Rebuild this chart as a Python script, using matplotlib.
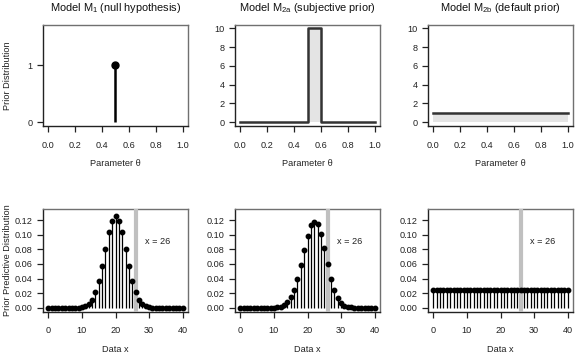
import matplotlib
matplotlib.use("Agg")
import matplotlib.pyplot as plt
import numpy as np

plt.rcParams['font.family'] = ['Liberation Sans', 'DejaVu Sans']
plt.rcParams['mathtext.fontset'] = 'custom'
plt.rcParams['mathtext.rm'] = 'Liberation Sans'
plt.rcParams['mathtext.it'] = 'Liberation Sans:italic'

# ---- data ----
titles = [r"Model M$_{\mathrm{1}}$ (null hypothesis)",
          r"Model M$_{\mathrm{2a}}$ (subjective prior)",
          r"Model M$_{\mathrm{2b}}$ (default prior)"]

# top row: prior distributions
m1_theta = [0.5, 0.5]
m1_density = [0.0, 1.0]
m2a_theta = [0.0, 0.5, 0.5, 0.6, 0.6, 1.0]
m2a_density = [0.0, 0.0, 10.0, 10.0, 0.0, 0.0]
m2b_theta = [0.0, 1.0]
m2b_density = [1.0, 1.0]

# bottom row: prior predictive distributions
data_x = list(range(41))
pred_m1 = [0.0, 0.0, 0.0, 0.0, 0.0, 0.0, 0.0, 0.0, 0.0, 0.0001, 0.0008,
           0.0021, 0.0051, 0.0109, 0.0211, 0.0366, 0.0572, 0.0807, 0.1031, 0.1194, 0.1254,
           0.1194, 0.1031, 0.0807, 0.0572, 0.0366, 0.0211, 0.0109, 0.0051, 0.0021, 0.0008,
           0.0001, 0.0, 0.0, 0.0, 0.0, 0.0, 0.0, 0.0, 0.0, 0.0]
pred_m2a = [0.0, 0.0, 0.0, 0.0, 0.0, 0.0, 0.0, 0.0, 0.0, 0.0, 0.0002,
            0.0005, 0.0013, 0.0033, 0.0072, 0.0140, 0.0245, 0.0392, 0.0585, 0.0788, 0.0985,
            0.1130, 0.1180, 0.1140, 0.1010, 0.0815, 0.0600, 0.0400, 0.0245, 0.0135, 0.0066,
            0.0028, 0.0011, 0.0004, 0.0001, 0.0, 0.0, 0.0, 0.0, 0.0, 0.0]
pred_m2b = [0.0244, 0.0244, 0.0244, 0.0244, 0.0244, 0.0244, 0.0244, 0.0244, 0.0244, 0.0244,
            0.0244, 0.0244, 0.0244, 0.0244, 0.0244, 0.0244, 0.0244, 0.0244, 0.0244, 0.0244,
            0.0244, 0.0244, 0.0244, 0.0244, 0.0244, 0.0244, 0.0244, 0.0244, 0.0244, 0.0244,
            0.0244, 0.0244, 0.0244, 0.0244, 0.0244, 0.0244, 0.0244, 0.0244, 0.0244, 0.0244,
            0.0244]
observed_x = 26
observed_label = "x = 26"

# ---- layout ----
W, H = 576, 357
fig = plt.figure(figsize=(W / 100, H / 100), dpi=100)

col_left = [43, 235, 428]
col_w = 145
top_row = (24.5, 126)
bot_row = (209, 311.5)

FS = 6.6
TFS = 7.9

def make_ax(col, row):
    l = col_left[col]
    t, b = row
    return fig.add_axes([l / W, 1 - b / H, col_w / W, (b - t) / H])

def style(ax):
    for s in ['top', 'right']:
        ax.spines[s].set_color('#707070')
        ax.spines[s].set_linewidth(1.0)
    for s in ['left', 'bottom']:
        ax.spines[s].set_color('#222222')
        ax.spines[s].set_linewidth(1.0)
    ax.tick_params(axis='both', direction='out', length=4, width=0.9,
                   color='#222222', labelsize=FS, labelcolor='#222222')
    ax.tick_params(axis='x', pad=6.5)
    ax.tick_params(axis='y', pad=3.5)

top_axes = [make_ax(i, top_row) for i in range(3)]
bot_axes = [make_ax(i, bot_row) for i in range(3)]

theta_ticks = [0.0, 0.2, 0.4, 0.6, 0.8, 1.0]

# top-left
ax = top_axes[0]
ax.plot(m1_theta, m1_density, color='black', lw=1.8, solid_capstyle='butt')
ax.plot([m1_theta[-1]], [m1_density[-1]], 'o', color='black', ms=5)
ax.set_ylim(-0.066, 1.716)
ax.set_yticks([0, 1])
ax.set_yticklabels(['0', '1'])

# top-middle
ax = top_axes[1]
ax.fill_between(m2a_theta, m2a_density, 0, color='#e4e4e4', lw=0)
ax.plot(m2a_theta, m2a_density, color='#333333', lw=1.8)
ax.set_ylim(-0.4, 10.4)
ax.set_yticks([0, 2, 4, 6, 8, 10])

# top-right
ax = top_axes[2]
ax.fill_between(m2b_theta, m2b_density, 0, color='#e4e4e4', lw=0)
ax.plot(m2b_theta, m2b_density, color='#333333', lw=1.8)
ax.set_ylim(-0.4, 10.4)
ax.set_yticks([0, 2, 4, 6, 8, 10])

for ax, t in zip(top_axes, titles):
    ax.set_xlim(-0.04, 1.04)
    ax.set_xticks(theta_ticks)
    ax.set_xticklabels([f"{v:.1f}" for v in theta_ticks])
    ax.set_title(t, fontsize=TFS, pad=9.7, color='#111111')
    ax.set_xlabel("Parameter \u03b8", fontsize=FS, va='center', color='#222222')
    ax.xaxis.set_label_coords(0.5, -0.37)
    style(ax)

top_axes[0].set_ylabel("Prior Distribution", fontsize=FS, va='center', color='#222222')
top_axes[0].yaxis.set_label_coords(-0.245, 0.5)

preds = [pred_m1, pred_m2a, pred_m2b]
for ax, p in zip(bot_axes, preds):
    ax.vlines(data_x, 0, p, color='black', lw=0.9, zorder=2)
    ax.axvline(observed_x, color='#c0c0c0', lw=3.0, zorder=3)
    ax.plot(data_x, p, 'o', color='black', ms=3.2, zorder=4)
    ax.text(32.5, 0.091, observed_label, fontsize=FS, ha='center', va='center', color='#222222')
    ax.set_xlim(-1.6, 41.6)
    ax.set_ylim(-0.0052, 0.1352)
    ax.set_xticks([0, 10, 20, 30, 40])
    ax.set_yticks([0.0, 0.02, 0.04, 0.06, 0.08, 0.10, 0.12])
    ax.set_yticklabels([f"{v:.2f}" for v in [0.0, 0.02, 0.04, 0.06, 0.08, 0.10, 0.12]])
    ax.set_xlabel("Data x", fontsize=FS, va='center', color='#222222')
    ax.xaxis.set_label_coords(0.5, -0.375)
    style(ax)

bot_axes[0].set_ylabel("Prior Predictive Distribution", fontsize=FS, va='center', color='#222222')
bot_axes[0].yaxis.set_label_coords(-0.245, 0.5)

fig.savefig("out.png", dpi=100, facecolor='white')
